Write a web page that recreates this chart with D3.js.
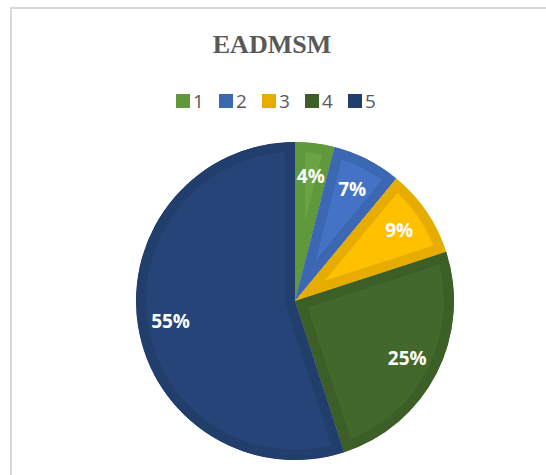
<!DOCTYPE html>
<html>
<head>
<meta charset="utf-8">
<script src="https://cdn.jsdelivr.net/npm/d3@7"></script>
<style>
  html, body { margin: 0; padding: 0; background: #fff; }
  svg { display: block; }
</style>
</head>
<body>
<div id="chart"></div>
<script>
const title = "EADMSM";
const categories = ["1", "2", "3", "4", "5"];
const values = [4, 7, 9, 25, 55];
const fillColors = ["#6aa443", "#4472c4", "#ffc000", "#43682b", "#264478"];
const edgeColors = ["#5f993c", "#3c67b3", "#e6ad00", "#3c5e27", "#223e6d"];

const W = 546, H = 475;
const cx = 295, cy = 301, R = 159, band = 10;

const svg = d3.select("#chart").append("svg")
  .attr("width", W).attr("height", H);

// chart frame
svg.append("path")
  .attr("d", `M11,${H} L11,8 L${W},8`)
  .attr("fill", "none")
  .attr("stroke", "#d9d9d9")
  .attr("stroke-width", 2);

svg.append("text")
  .attr("x", 272).attr("y", 53)
  .attr("text-anchor", "middle")
  .attr("font-family", "'Liberation Serif', 'Times New Roman', serif")
  .attr("font-weight", "bold")
  .attr("font-size", 26)
  .attr("fill", "#595959")
  .text(title);

// legend
const legendX = d3.scalePoint().domain(categories).range([176, 348]);
const lg = svg.append("g");
categories.forEach((c, i) => {
  const x = legendX(c);
  lg.append("rect").attr("x", x).attr("y", 94).attr("width", 14).attr("height", 14)
    .attr("fill", edgeColors[i]);
  lg.append("text").attr("x", x + 17).attr("y", 108)
    .attr("font-family", "'Open Sans', 'Liberation Sans', sans-serif")
    .attr("font-size", 19).attr("fill", "#595959")
    .text(c);
});

const pie = d3.pie().sort(null).value(d => d)(values);
const arc = d3.arc().innerRadius(0).outerRadius(R);
const labelArc = d3.arc().innerRadius(126).outerRadius(126);
const total = d3.sum(values);

const g = svg.append("g").attr("transform", `translate(${cx},${cy})`);
const defs = svg.append("defs");

pie.forEach((p, i) => {
  defs.append("clipPath").attr("id", "clip" + i)
    .append("path").attr("d", arc(p));
  g.append("path")
    .attr("d", arc(p))
    .attr("fill", fillColors[i])
    .attr("stroke", edgeColors[i])
    .attr("stroke-width", band * 2)
    .attr("stroke-linejoin", "miter")
    .attr("clip-path", `url(#clip${i})`);
});

pie.forEach((p, i) => {
  const [lx, ly] = labelArc.centroid(p);
  g.append("text")
    .attr("x", lx).attr("y", ly)
    .attr("text-anchor", "middle")
    .attr("dominant-baseline", "central")
    .attr("font-family", "'Open Sans', 'Liberation Sans', sans-serif")
    .attr("font-weight", "bold")
    .attr("font-size", 19)
    .attr("fill", "#ffffff")
    .text(Math.round(values[i] / total * 100) + "%");
});
</script>
</body>
</html>
